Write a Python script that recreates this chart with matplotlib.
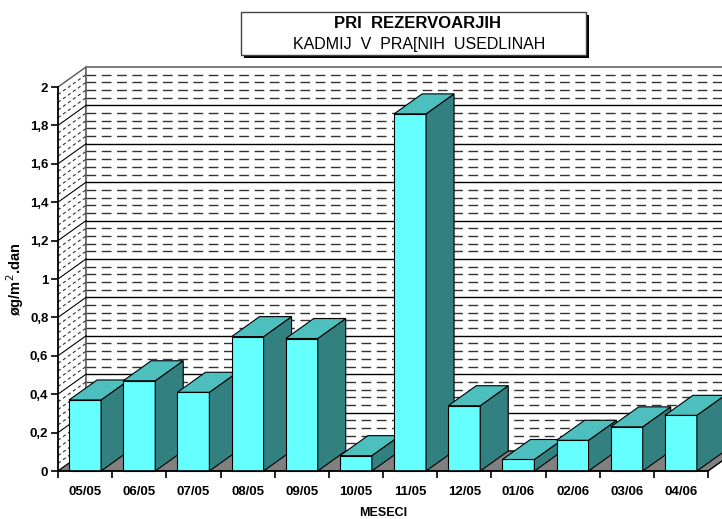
import matplotlib.pyplot as plt
from matplotlib.patches import Polygon, Rectangle

months = ['05/05', '06/05', '07/05', '08/05', '09/05', '10/05',
          '11/05', '12/05', '01/06', '02/06', '03/06', '04/06']
cadmium = [0.37, 0.47, 0.41, 0.70, 0.69, 0.08,
           1.86, 0.34, 0.06, 0.16, 0.23, 0.29]
y_ticks = [0, 0.2, 0.4, 0.6, 0.8, 1.0, 1.2, 1.4, 1.6, 1.8, 2.0]
y_tick_labels = ['0', '0,2', '0,4', '0,6', '0,8', '1', '1,2', '1,4', '1,6', '1,8', '2']

FRONT = '#66FFFF'
TOP = '#4DBFBF'
SIDE = '#338080'
FLOOR = '#808080'

plt.rcParams['font.family'] = ['Liberation Sans', 'DejaVu Sans']

W, H = 722, 519
fig = plt.figure(figsize=(W / 100, H / 100), dpi=100)
ax = fig.add_axes([58 / W, (H - 471) / H, 650 / W, 384 / H])

x0, x1 = -0.5, len(months) - 0.5
ymax = 2.0
ax.set_xlim(x0, x1)
ax.set_ylim(0, ymax)

# depth offset of the 3D box, in data units
ddx = 28 / (650 / len(months))
ddy = 20 / (384 / ymax)


def poly(pts, fc, ec='black', lw=0.8, z=1):
    ax.add_patch(Polygon(pts, closed=True, facecolor=fc, edgecolor=ec,
                         linewidth=lw, zorder=z, clip_on=False))


# walls and floor
poly([(x0, 0), (x0 + ddx, ddy), (x0 + ddx, ymax + ddy), (x0, ymax)], 'white', '#555555', 1.0)
poly([(x0 + ddx, ddy), (x1 + ddx, ddy), (x1 + ddx, ymax + ddy), (x0 + ddx, ymax + ddy)],
     'white', '#666666', 1.2)
poly([(x0, 0), (x1, 0), (x1 + ddx, ddy), (x0 + ddx, ddy)], FLOOR, 'black', 0.8)

# gridlines on the back and side walls
minor = [i * 0.04 for i in range(1, 50)]
for v in minor:
    if abs(round(v / 0.2) * 0.2 - v) < 1e-6:
        style, col, lw = '-', 'black', 1.0
    else:
        style, col, lw = (0, (7, 4)), '#333333', 1.0
    ax.plot([x0 + ddx, x1 + ddx], [v + ddy, v + ddy], ls=style, color=col, lw=lw,
            zorder=2, clip_on=False)
    ax.plot([x0, x0 + ddx], [v, v + ddy], ls='-' if style == '-' else (0, (3, 2.5)),
            color=col, lw=0.8, zorder=2, clip_on=False)

# 3D columns, drawn left to right so each front face covers the previous side
bw = 0.59
for i, v in enumerate(cadmium):
    l, r = i - bw / 2, i + bw / 2
    poly([(l, 0), (r, 0), (r, v), (l, v)], FRONT, z=5 + i)
    poly([(r, 0), (r + ddx, ddy), (r + ddx, v + ddy), (r, v)], SIDE, z=5 + i)
    poly([(l, v), (r, v), (r + ddx, v + ddy), (l + ddx, v + ddy)], TOP, z=5 + i)

ax.plot([x1, x1 + ddx], [0, ddy], color='black', lw=0.8, zorder=3, clip_on=False)

# axes
for s in ['top', 'right']:
    ax.spines[s].set_visible(False)
for s in ['left', 'bottom']:
    ax.spines[s].set_linewidth(1.2)
    ax.spines[s].set_zorder(30)
ax.set_yticks(y_ticks)
ax.set_yticklabels(y_tick_labels, fontsize=9.5, fontweight='bold')
ax.set_xticks([i - 0.5 for i in range(len(months) + 1)])
ax.set_xticklabels([])
ax.set_xticks(range(len(months)), minor=True)
ax.set_xticklabels(months, minor=True, fontsize=9.5, fontweight='bold')
ax.tick_params(axis='x', which='minor', length=0, pad=11)
ax.tick_params(axis='x', which='major', length=5, width=1.2, direction='out')
ax.tick_params(axis='y', length=5, width=1.2, direction='out', pad=2)
ax.set_facecolor('none')

ax.set_xlabel('MESECI', fontsize=9, fontweight='bold', labelpad=6)
ax.set_ylabel('øg/m$^2$.dan', fontsize=10.5, fontweight='bold', labelpad=3)

# title box with drop shadow
bx, by, bw_px, bh_px = 241 / W, 1 - 55 / H, 345 / W, 43 / H
fig.patches.append(Rectangle((bx + 3 / W, by - 3 / H), bw_px, bh_px, transform=fig.transFigure,
                             facecolor='black', edgecolor='black', lw=0))
fig.patches.append(Rectangle((bx, by), bw_px, bh_px, transform=fig.transFigure,
                             facecolor='white', edgecolor='#444444', lw=1.0))
fig.text((241 + 177) / W, 1 - 24 / H, 'PRI  REZERVOARJIH', ha='center', va='center',
         fontsize=12, fontweight='bold')
fig.text((241 + 178) / W, 1 - 45 / H, 'KADMIJ  V  PRA[NIH  USEDLINAH', ha='center',
         va='center', fontsize=11.5)

fig.savefig('out.png', dpi=100)
